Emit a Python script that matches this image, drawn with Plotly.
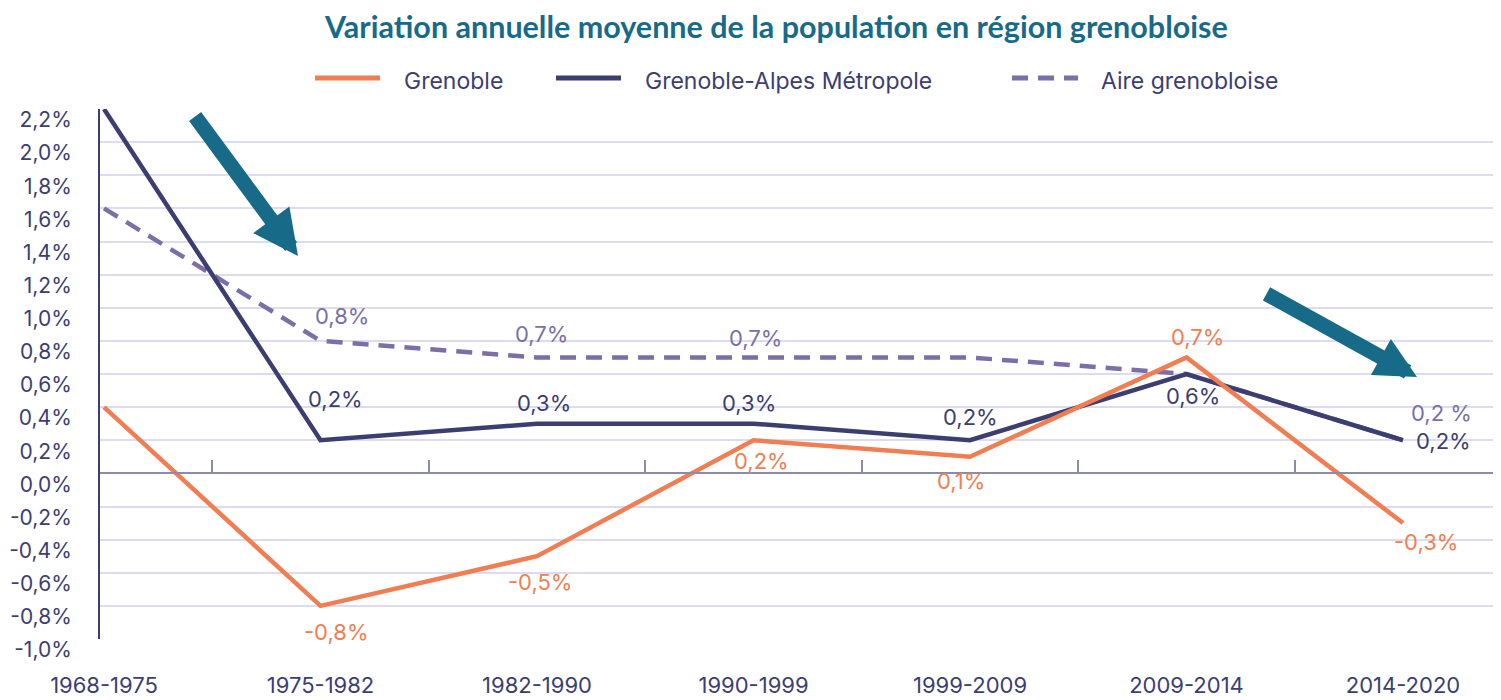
import plotly.graph_objects as go

# ---------------- data ----------------
periods = ["1968-1975", "1975-1982", "1982-1990", "1990-1999", "1999-2009", "2009-2014", "2014-2020"]
grenoble = [0.4, -0.8, -0.5, 0.2, 0.1, 0.7, -0.3]
metropole = [2.2, 0.2, 0.3, 0.3, 0.2, 0.6, 0.2]
aire = [1.6, 0.8, 0.7, 0.7, 0.7, 0.6, 0.2]

series_names = ["Grenoble", "Grenoble-Alpes Métropole", "Aire grenobloise"]
y_ticks = [-1.0, -0.8, -0.6, -0.4, -0.2, 0.0, 0.2, 0.4, 0.6, 0.8, 1.0, 1.2, 1.4, 1.6, 1.8, 2.0, 2.2]
title_text = "Variation annuelle moyenne de la population en région grenobloise"

# which points carry a value label (index list per series)
lab_grenoble = [1, 2, 3, 4, 5, 6]
lab_metropole = [1, 2, 3, 4, 5, 6]
lab_aire = [1, 2, 3, 6]

# ---------------- styles ----------------
C_GRE = "#f07e52"
C_MET = "#3c3e72"
C_AIRE = "#7a6fa9"
C_TITLE = "#176a88"
C_GRID = "#dddbee"
C_ZERO = "#8a8cad"
FONT = "Inter"

# label pixel offsets (xshift, yshift) per labelled point
off_gre = [(16, -26), (3, -26), (8, -21), (-9, -24), (11, 20), (23, -19)]
off_met = [(15, 41), (7, 21), (-5, 21), (0, 23), (6, -22), (40, -1)]
off_aire = [(21, 25), (4, 23), (2, 19), (38, 27)]


def fmt(v, sep=""):
    return f"{v:.1f}".replace(".", ",") + sep + "%"


x_idx = list(range(len(periods)))

fig = go.Figure()
fig.add_trace(go.Scatter(x=x_idx, y=aire, mode="lines", name=series_names[2],
                         line=dict(color=C_AIRE, width=4.5, dash="16px,10px"), showlegend=False))
fig.add_trace(go.Scatter(x=x_idx, y=metropole, mode="lines", name=series_names[1],
                         line=dict(color=C_MET, width=4.5), showlegend=False))
# Grenoble drawn on the overlaid x2 axis (same range) so it sits on top and x2's ticks render
fig.add_trace(go.Scatter(x=x_idx, y=grenoble, mode="lines", name=series_names[0],
                         xaxis="x2", yaxis="y",
                         line=dict(color=C_GRE, width=4.5), showlegend=False))

annotations = []


def add_labels(vals, idxs, offs, color, seps=None):
    for k, (i, (dx, dy)) in enumerate(zip(idxs, offs)):
        sep = seps[k] if seps else ""
        annotations.append(dict(x=i, y=vals[i], xref="x", yref="y", text=fmt(vals[i], sep),
                                showarrow=False, xshift=dx, yshift=dy,
                                font=dict(family=FONT, size=22, color=color)))


add_labels(grenoble, lab_grenoble, off_gre, C_GRE)
add_labels(metropole, lab_metropole, off_met, C_MET)
add_labels(aire, lab_aire, off_aire, C_AIRE, seps=["", "", "", " "])

# page geometry (the browser page has an 8px body margin)
OFF = 8
W, H_FIG = 1501 - OFF, 700 - OFF
L, T, H = 100, 109, 530          # on-screen plot left / top / height
PW = 1501 - L


def px_x(p):
    return (p - L) / PW


def px_y(p):
    return (T + H - p) / H


# arrows (decorative)
annotations.append(dict(x=px_x(298), y=px_y(256), xref="paper", yref="paper", ax=-104, ay=-141,
                        showarrow=True, arrowhead=2, arrowsize=0.6, arrowwidth=15,
                        arrowcolor=C_TITLE, text="", standoff=0))
annotations.append(dict(x=px_x(1417), y=px_y(377), xref="paper", yref="paper", ax=-152, ay=-84,
                        showarrow=True, arrowhead=2, arrowsize=0.55, arrowwidth=15,
                        arrowcolor=C_TITLE, text="", standoff=0))

# custom legend
shapes = []
leg = [(315, 380, 402, C_GRE, "solid", series_names[0]),
       (556, 621, 643, C_MET, "solid", series_names[1]),
       (1012, 1078, 1099, C_AIRE, "16px,10px", series_names[2])]
for x0, x1, xt, col, dash, name in leg:
    shapes.append(dict(type="line", xref="paper", yref="paper", x0=px_x(x0), x1=px_x(x1),
                       y0=px_y(78), y1=px_y(78), line=dict(color=col, width=5, dash=dash)))
    annotations.append(dict(x=px_x(xt), y=px_y(81), xref="paper", yref="paper", text=name,
                            showarrow=False, xanchor="left", yanchor="middle",
                            font=dict(family=FONT, size=23, color=C_MET)))

# title as a paper annotation
annotations.append(dict(x=px_x(776), y=px_y(26), xref="paper", yref="paper",
                        text=f"<b>{title_text}</b>", showarrow=False,
                        xanchor="center", yanchor="middle",
                        font=dict(family="Lato", size=30.5, color=C_TITLE)))

x_range = [-4 / 216.5, (PW - 4) / 216.5]

fig.update_layout(
    width=W, height=H_FIG,
    margin=dict(l=L - OFF, r=0, t=T - OFF, b=H_FIG - (T - OFF) - H, pad=0, autoexpand=False),
    paper_bgcolor="white", plot_bgcolor="white",
    xaxis=dict(range=x_range, tickvals=x_idx, ticktext=periods, automargin=False,
               showgrid=False, zeroline=False, showline=False, ticks="",
               ticklabelstandoff=31,
               tickfont=dict(family=FONT, size=22, color=C_MET)),
    xaxis2=dict(overlaying="x", range=x_range, anchor="free", position=1.0 / 3.2, side="bottom",
                automargin=False,
                tickvals=[i + 0.5 for i in x_idx[:-1]], ticks="inside", ticklen=13,
                tickcolor=C_ZERO, tickwidth=1.5, showticklabels=False, showgrid=False,
                zeroline=False, showline=True, linecolor=C_ZERO, linewidth=1.5),
    yaxis=dict(range=[-1.0, 2.2], tickvals=y_ticks, ticktext=[fmt(v) for v in y_ticks],
               automargin=False,
               showgrid=True, gridcolor=C_GRID, gridwidth=1.5, zeroline=False,
               showline=True, linecolor=C_MET, linewidth=2, ticks="",
               ticklabelstandoff=22, ticklabelshift=11,
               tickfont=dict(family=FONT, size=21, color=C_MET)),
    annotations=annotations, shapes=shapes, showlegend=False,
)

fig.write_html("out.html")
